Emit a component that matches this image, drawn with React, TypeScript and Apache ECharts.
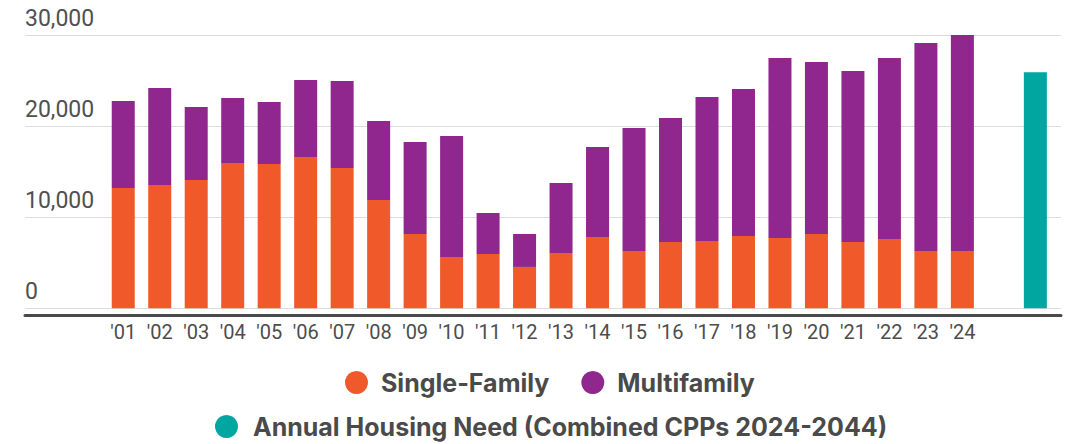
import React, { useEffect, useRef } from "react";
import * as echarts from "echarts";

const years = ["'01", "'02", "'03", "'04", "'05", "'06", "'07", "'08", "'09", "'10", "'11", "'12", "'13", "'14", "'15", "'16", "'17", "'18", "'19", "'20", "'21", "'22", "'23", "'24"];
const extraCategories = ["", " "];
const singleFamily = [13210, 13540, 14090, 15950, 15840, 16610, 15400, 11890, 8160, 5630, 5960, 4540, 6070, 7830, 6290, 7280, 7390, 7940, 7720, 8160, 7280, 7610, 6290, 6290];
const multifamily = [9550, 10650, 8010, 7140, 6810, 8450, 9550, 8670, 10100, 13290, 4500, 3620, 7690, 9880, 13500, 13610, 15810, 16140, 19760, 18880, 18770, 19870, 22830, 23710];
const annualNeed = 25900;
const yTicks = [0, 10000, 20000, 30000];

const NEED_NAME = "Annual Housing Need (Combined CPPs 2024-2044)";

export default function App() {
  const ref = useRef<HTMLDivElement>(null);
  useEffect(() => {
    document.body.style.margin = "0";
    const chart = echarts.init(ref.current!, null, { renderer: "svg" });
    const categories = [...years, ...extraCategories];
    const pad = extraCategories.map(() => "-");
    const needData = [...years.map(() => "-"), "-", annualNeed];
    const legendText = {
      fontFamily: "Inter",
      fontWeight: 700,
      fontSize: 25,
      color: "#4a4a4a",
    };
    chart.setOption({
      animation: false,
      backgroundColor: "#ffffff",
      grid: [
        { left: 105, right: 18.4, top: 35, bottom: 135.7 },
        { left: 25, right: 11, top: 35, bottom: 135.7 },
      ],
      xAxis: [
        {
          gridIndex: 0,
          type: "category",
          data: categories,
          axisLine: { show: false },
          axisTick: { show: false },
          axisLabel: { color: "#4d4d4d", fontSize: 20, fontFamily: "Roboto", margin: 14, interval: 0 },
        },
        {
          gridIndex: 1,
          type: "value",
          min: 0,
          max: 1,
          offset: 7,
          axisLine: { show: true, onZero: false, lineStyle: { color: "#4a4a4a", width: 3 } },
          axisTick: { show: false },
          axisLabel: { show: false },
          splitLine: { show: false },
        },
      ],
      yAxis: [
        { gridIndex: 0, type: "value", min: 0, max: 30000, interval: 10000, show: false },
        {
          gridIndex: 1,
          type: "value",
          min: yTicks[0],
          max: yTicks[yTicks.length - 1],
          interval: 10000,
          axisLine: { show: false },
          axisTick: { show: false },
          splitLine: { show: true, lineStyle: { color: "#dcdcdc", width: 1 } },
          axisLabel: {
            inside: true,
            align: "left",
            verticalAlign: "bottom",
            margin: 0,
            padding: [0, 0, 5, 0],
            color: "#505050",
            fontSize: 23,
            fontFamily: "Roboto",
            formatter: (v: number) => v.toLocaleString("en-US"),
          },
        },
      ],
      legend: [
        {
          data: ["Single-Family", "Multifamily"],
          left: 345,
          top: 370,
          padding: 0,
          icon: "circle",
          itemWidth: 23,
          itemHeight: 23,
          itemGap: 32,
          textStyle: { ...legendText, padding: [0, 0, 0, 8] },
        },
        {
          data: [NEED_NAME],
          left: 215,
          top: 414,
          padding: 0,
          icon: "circle",
          itemWidth: 23,
          itemHeight: 23,
          textStyle: { ...legendText, padding: [0, 0, 0, 10] },
        },
      ],
      series: [
        {
          name: "Single-Family",
          type: "bar",
          stack: "a",
          barWidth: 23,
          xAxisIndex: 0,
          yAxisIndex: 0,
          itemStyle: { color: "#F05A2A" },
          data: [...singleFamily, ...pad],
        },
        {
          name: "Multifamily",
          type: "bar",
          stack: "a",
          barWidth: 23,
          xAxisIndex: 0,
          yAxisIndex: 0,
          itemStyle: { color: "#90278E" },
          data: [...multifamily, ...pad],
        },
        {
          name: NEED_NAME,
          type: "bar",
          stack: "a",
          barWidth: 23,
          xAxisIndex: 0,
          yAxisIndex: 0,
          itemStyle: { color: "#00A69F" },
          data: needData,
        },
      ],
    });
    return () => chart.dispose();
  }, []);
  return <div ref={ref} style={{ width: 1072, height: 444 }} />;
}
